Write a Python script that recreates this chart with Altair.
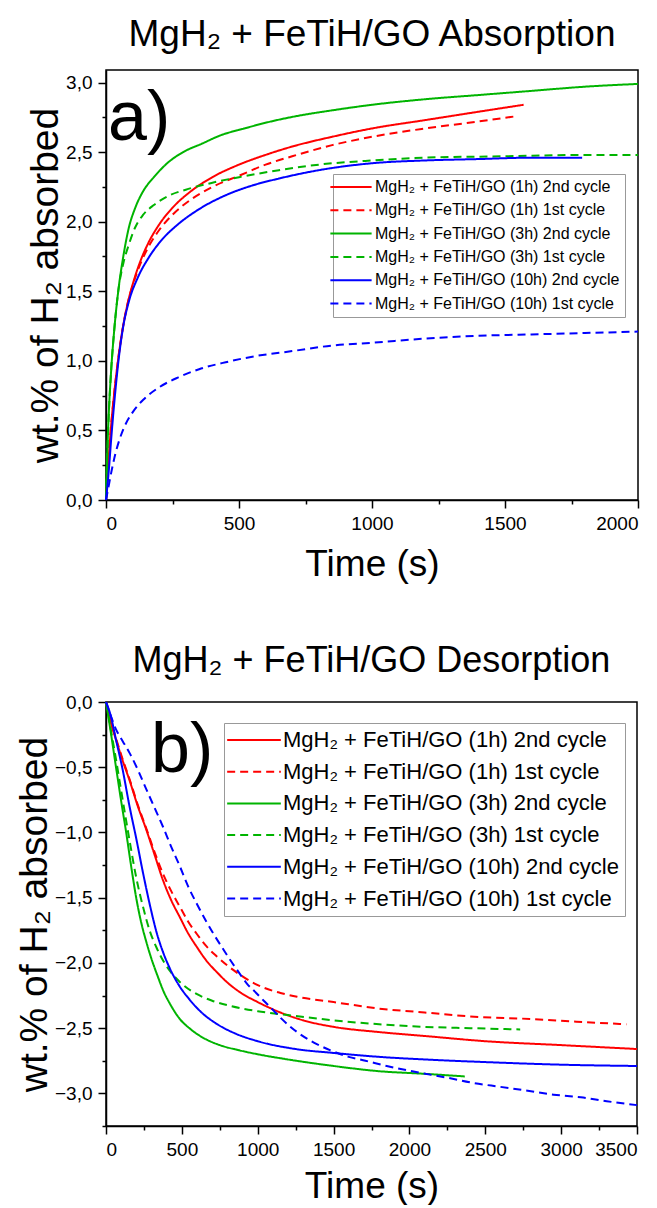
import altair as alt
import pandas as pd

FONT = "Liberation Sans"

labels = [
    "MgH₂ + FeTiH/GO (1h) 2nd cycle",
    "MgH₂ + FeTiH/GO (1h) 1st cycle",
    "MgH₂ + FeTiH/GO (3h) 2nd cycle",
    "MgH₂ + FeTiH/GO (3h) 1st cycle",
    "MgH₂ + FeTiH/GO (10h) 2nd cycle",
    "MgH₂ + FeTiH/GO (10h) 1st cycle",
]
colors = ["#ff0000", "#ff0000", "#00b400", "#00b400", "#0000ff", "#0000ff"]
dashes = [[1, 0], [8, 5], [1, 0], [8, 5], [1, 0], [8, 5]]

# ---------------- a) Absorption ----------------
a_1h_2nd_t = [0, 10, 20, 30, 45, 60, 80, 105, 130, 160, 200, 250, 320, 400, 500, 600, 700, 850, 1000, 1200, 1400, 1570]
a_1h_2nd_v = [0, 0.3, 0.55, 0.75, 1.0, 1.2, 1.4, 1.58, 1.72, 1.85, 1.98, 2.1, 2.22, 2.32, 2.41, 2.48, 2.54, 2.61, 2.67, 2.73, 2.79, 2.84]
a_1h_1st_t = [0, 10, 20, 30, 45, 60, 80, 105, 130, 160, 200, 250, 320, 400, 500, 600, 700, 850, 1000, 1200, 1400, 1550]
a_1h_1st_v = [0, 0.3, 0.55, 0.75, 1.0, 1.2, 1.4, 1.57, 1.7, 1.82, 1.94, 2.05, 2.16, 2.25, 2.33, 2.41, 2.47, 2.55, 2.61, 2.67, 2.72, 2.76]
a_3h_2nd_t = [0, 5, 10, 20, 30, 46, 65, 85, 110, 140, 180, 230, 290, 360, 430, 520, 620, 720, 850, 1000, 1200, 1400, 1600, 1800, 2000]
a_3h_2nd_v = [0, 0.35, 0.6, 0.95, 1.2, 1.5, 1.75, 1.95, 2.1, 2.22, 2.32, 2.42, 2.5, 2.56, 2.62, 2.67, 2.72, 2.76, 2.8, 2.84, 2.88, 2.91, 2.94, 2.97, 2.99]
a_3h_1st_t = [0, 5, 10, 20, 30, 46, 65, 85, 110, 140, 180, 240, 300, 400, 500, 650, 800, 1000, 1200, 1500, 1800, 2000]
a_3h_1st_v = [0, 0.35, 0.6, 0.95, 1.2, 1.5, 1.7, 1.83, 1.96, 2.05, 2.12, 2.19, 2.23, 2.28, 2.32, 2.37, 2.41, 2.44, 2.46, 2.47, 2.48, 2.48]
a_10h_2nd_t = [0, 10, 20, 35, 50, 65, 85, 120, 160, 210, 270, 350, 450, 550, 650, 800, 1000, 1200, 1400, 1600, 1790]
a_10h_2nd_v = [0, 0.2, 0.45, 0.78, 1.05, 1.25, 1.42, 1.6, 1.74, 1.87, 1.98, 2.09, 2.19, 2.26, 2.31, 2.37, 2.42, 2.44, 2.45, 2.46, 2.46]
a_10h_1st_t = [0, 10, 20, 35, 50, 70, 100, 140, 200, 270, 350, 450, 550, 700, 850, 1000, 1200, 1400, 1600, 1800, 2000]
a_10h_1st_v = [0, 0.1, 0.2, 0.33, 0.43, 0.53, 0.63, 0.72, 0.81, 0.88, 0.94, 0.99, 1.03, 1.07, 1.11, 1.13, 1.16, 1.18, 1.19, 1.2, 1.21]

# ---------------- b) Desorption ----------------
b_1h_2nd_t = [0, 30, 66, 110, 155, 210, 266, 320, 377, 430, 487, 540, 600, 660, 730, 800, 890, 1000, 1150, 1300, 1500, 1800, 2100, 2500, 3000, 3500]
b_1h_2nd_v = [0, -0.15, -0.29, -0.45, -0.6, -0.8, -0.98, -1.17, -1.37, -1.52, -1.65, -1.77, -1.88, -1.98, -2.07, -2.15, -2.23, -2.3, -2.38, -2.44, -2.49, -2.53, -2.56, -2.6, -2.63, -2.66]
b_1h_1st_t = [0, 30, 66, 110, 155, 210, 266, 320, 377, 430, 487, 540, 600, 660, 730, 800, 870, 950, 1040, 1150, 1260, 1500, 1800, 2100, 2400, 2800, 3100, 3430]
b_1h_1st_v = [0, -0.14, -0.28, -0.44, -0.59, -0.79, -0.97, -1.15, -1.32, -1.45, -1.57, -1.68, -1.78, -1.87, -1.95, -2.02, -2.08, -2.14, -2.19, -2.23, -2.26, -2.3, -2.35, -2.38, -2.41, -2.43, -2.45, -2.47]
b_3h_2nd_t = [0, 30, 66, 100, 133, 166, 199, 230, 266, 300, 340, 380, 420, 480, 560, 650, 750, 880, 1000, 1200, 1500, 1800, 2100, 2365]
b_3h_2nd_v = [0, -0.22, -0.5, -0.76, -1.0, -1.26, -1.5, -1.68, -1.84, -1.97, -2.1, -2.22, -2.31, -2.42, -2.51, -2.58, -2.63, -2.67, -2.7, -2.74, -2.79, -2.83, -2.85, -2.87]
b_3h_1st_t = [0, 30, 66, 100, 155, 200, 244, 290, 332, 380, 420, 500, 600, 700, 820, 1000, 1200, 1500, 1800, 2100, 2400, 2730]
b_3h_1st_v = [0, -0.2, -0.44, -0.68, -1.06, -1.35, -1.57, -1.76, -1.88, -1.99, -2.06, -2.16, -2.24, -2.29, -2.33, -2.37, -2.4, -2.44, -2.47, -2.49, -2.5, -2.51]
b_10h_2nd_t = [0, 30, 66, 110, 155, 200, 244, 290, 332, 380, 420, 480, 550, 630, 720, 850, 1000, 1250, 1500, 1800, 2100, 2500, 3000, 3500]
b_10h_2nd_v = [0, -0.1, -0.29, -0.52, -0.8, -1.05, -1.31, -1.56, -1.76, -1.93, -2.04, -2.17, -2.28, -2.38, -2.46, -2.54, -2.6, -2.66, -2.69, -2.72, -2.74, -2.76, -2.78, -2.79]
b_10h_1st_t = [0, 30, 66, 110, 155, 210, 266, 320, 377, 430, 487, 540, 600, 660, 710, 770, 820, 880, 930, 990, 1040, 1100, 1150, 1260, 1370, 1480, 1600, 1710, 1850, 2060, 2250, 2420, 2600, 2780, 2950, 3130, 3300, 3500]
b_10h_1st_v = [0, -0.1, -0.21, -0.3, -0.39, -0.52, -0.67, -0.81, -0.96, -1.11, -1.26, -1.41, -1.55, -1.68, -1.78, -1.89, -1.98, -2.08, -2.16, -2.23, -2.29, -2.36, -2.42, -2.53, -2.61, -2.67, -2.72, -2.75, -2.79, -2.84, -2.88, -2.92, -2.95, -2.98, -3.01, -3.03, -3.06, -3.09]

a_ticks_x = [0, 250, 500, 750, 1000, 1250, 1500, 1750, 2000]
a_ticks_y = [0, 0.25, 0.5, 0.75, 1.0, 1.25, 1.5, 1.75, 2.0, 2.25, 2.5, 2.75, 3.0]
b_ticks_x = [0, 250, 500, 750, 1000, 1250, 1500, 1750, 2000, 2250, 2500, 2750, 3000, 3250, 3500]
b_ticks_y = [0, -0.25, -0.5, -0.75, -1.0, -1.25, -1.5, -1.75, -2.0, -2.25, -2.5, -2.75, -3.0, -3.25]


def long_df(pairs):
    rows = []
    for name, ts, vs in pairs:
        for t, v in zip(ts, vs):
            rows.append({"series": name, "t": t, "v": v})
    return pd.DataFrame(rows)


df_a = long_df([
    (labels[0], a_1h_2nd_t, a_1h_2nd_v), (labels[1], a_1h_1st_t, a_1h_1st_v),
    (labels[2], a_3h_2nd_t, a_3h_2nd_v), (labels[3], a_3h_1st_t, a_3h_1st_v),
    (labels[4], a_10h_2nd_t, a_10h_2nd_v), (labels[5], a_10h_1st_t, a_10h_1st_v),
])
df_b = long_df([
    (labels[0], b_1h_2nd_t, b_1h_2nd_v), (labels[1], b_1h_1st_t, b_1h_1st_v),
    (labels[2], b_3h_2nd_t, b_3h_2nd_v), (labels[3], b_3h_1st_t, b_3h_1st_v),
    (labels[4], b_10h_2nd_t, b_10h_2nd_v), (labels[5], b_10h_1st_t, b_10h_1st_v),
])

MAJ_Y = "abs(datum.value*2 - round(datum.value*2)) < 0.001"
MAJ_X = "datum.value % 500 == 0"


def y_axis(vals):
    return alt.Axis(
        values=vals, title="wt.% of H₂ absorbed",
        labelExpr=f"{MAJ_Y} ? replace(format(datum.value, '.1f'), '.', ',') : ''",
        tickSize={"condition": {"test": MAJ_Y, "value": 8}, "value": 4},
        labelPadding=6, titlePadding=0, titleFontSize=39,
    )


def x_axis(vals, tpad):
    return alt.Axis(
        values=vals, title="Time (s)",
        labelExpr=f"{MAJ_X} ? '' + datum.value : ''",
        tickSize={"condition": {"test": MAJ_X, "value": 8}, "value": 4},
        labelPadding=6, titlePadding=tpad, titleFontSize=37,
    )


def legend(x, y, size, soff, loff, fs, rowpad, pad):
    return alt.Legend(
        title=None, orient="none", legendX=x, legendY=y,
        symbolType="M-3,0H3", symbolSize=size, symbolStrokeWidth=2,
        symbolOffset=soff, labelOffset=loff, labelFontSize=fs, labelFont=FONT,
        labelColor="black", labelLimit=600, rowPadding=rowpad, padding=pad,
        strokeColor="#999999", fillColor="white",
    )


def panel(df, xdom, ydom, xt, yt, xtpad, leg, title, tfs, toff, tag, tagx, w, h):
    lines = alt.Chart(df).mark_line(strokeWidth=2, interpolate="monotone").encode(
        x=alt.X("t:Q", scale=alt.Scale(domain=xdom, nice=False, zero=False), axis=x_axis(xt, xtpad)),
        y=alt.Y("v:Q", scale=alt.Scale(domain=ydom, nice=False, zero=False), axis=y_axis(yt)),
        color=alt.Color("series:N", scale=alt.Scale(domain=labels, range=colors), legend=leg),
        strokeDash=alt.StrokeDash("series:N", scale=alt.Scale(domain=labels, range=dashes), legend=leg),
    )
    tag_mark = alt.Chart(pd.DataFrame({"lbl": [tag]})).mark_text(
        align="left", baseline="alphabetic", fontSize=70, font=FONT, color="black"
    ).encode(text="lbl:N", x=alt.value(tagx), y=alt.value(70))
    return alt.layer(lines, tag_mark).properties(
        width=w, height=h,
        title=alt.TitleParams(title, fontSize=tfs, font=FONT, fontWeight="normal", anchor="middle",
                              frame="group", baseline="alphabetic", offset=toff, color="black"),
    )


panel_a = panel(df_a, [0, 2000], [0, 3.09], a_ticks_x, a_ticks_y, 13,
                legend(227, 104, 189, 5, 16, 16, 7.3, 5),
                "MgH₂ + FeTiH/GO Absorption", 37, -13, "a)", 2, 532, 430)
panel_b = panel(df_b, [0, 3500], [-3.25, 0], b_ticks_x, b_ticks_y, 9,
                legend(118, 21, 320, 13, 18, 22, 9.7, 6),
                "MgH₂ + FeTiH/GO Desorption", 36, -15, "b)", 45, 531, 424)

chart = alt.vconcat(panel_a, panel_b, spacing=59).resolve_scale(
    x="independent", y="independent", color="independent", strokeDash="independent"
).configure_view(stroke="black", strokeWidth=1.5).configure_axis(
    domainColor="black", domainWidth=1.5, tickColor="black", tickWidth=1.5,
    labelColor="black", titleColor="black", labelFont=FONT, titleFont=FONT,
    labelFontSize=19, titleFontWeight="normal", grid=False,
).properties(padding={"left": 6, "top": 7, "right": 0, "bottom": 0})

chart.save("out.html", embed_options={"renderer": "svg", "actions": False})
